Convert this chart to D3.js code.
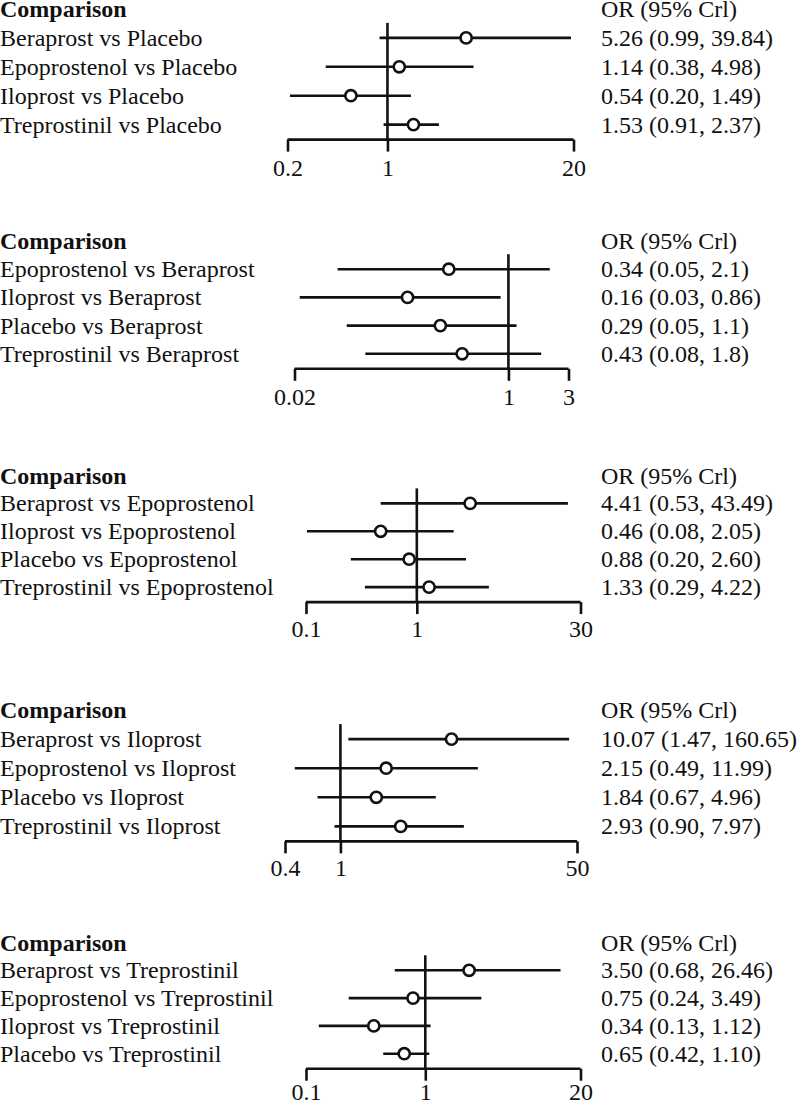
<!DOCTYPE html>
<html>
<head>
<meta charset="utf-8">
<script src="https://cdn.jsdelivr.net/npm/d3@7"></script>
<style>
  html, body { margin: 0; padding: 0; background: #fff; }
  svg text { font-family: "Liberation Serif", "Times New Roman", serif; fill: #111; }
</style>
</head>
<body>
<div id="chart"></div>
<script>
// ---------- DATA ----------
const headerLeft = "Comparison";
const headerRight = "OR (95% Crl)";

const labelsP1 = ["Beraprost vs Placebo", "Epoprostenol vs Placebo", "Iloprost vs Placebo", "Treprostinil vs Placebo"];
const estP1 = [3.55, 1.21, 0.555, 1.52];
const loP1  = [0.88, 0.37, 0.208, 0.94];
const hiP1  = [19.2, 4.0, 1.46, 2.29];
const textP1 = ["5.26 (0.99, 39.84)", "1.14 (0.38, 4.98)", "0.54 (0.20, 1.49)", "1.53 (0.91, 2.37)"];
const ticksP1 = [0.2, 1, 20];

const labelsP2 = ["Epoprostenol vs Beraprost", "Iloprost vs Beraprost", "Placebo vs Beraprost", "Treprostinil vs Beraprost"];
const estP2 = [0.336, 0.158, 0.288, 0.429];
const loP2  = [0.044, 0.022, 0.052, 0.073];
const hiP2  = [2.13, 0.867, 1.16, 1.82];
const textP2 = ["0.34 (0.05, 2.1)", "0.16 (0.03, 0.86)", "0.29 (0.05, 1.1)", "0.43 (0.08, 1.8)"];
const ticksP2 = [0.02, 1, 3];

const labelsP3 = ["Beraprost vs Epoprostenol", "Iloprost vs Epoprostenol", "Placebo vs Epoprostenol", "Treprostinil vs Epoprostenol"];
const estP3 = [3.03, 0.472, 0.853, 1.29];
const loP3  = [0.472, 0.102, 0.254, 0.34];
const hiP3  = [23.1, 2.15, 2.78, 4.47];
const textP3 = ["4.41 (0.53, 43.49)", "0.46 (0.08, 2.05)", "0.88 (0.20, 2.60)", "1.33 (0.29, 4.22)"];
const ticksP3 = [0.1, 1, 30];

const labelsP4 = ["Beraprost vs Iloprost", "Epoprostenol vs Iloprost", "Placebo vs Iloprost", "Treprostinil vs Iloprost"];
const estP4 = [6.28, 2.13, 1.81, 2.71];
const loP4  = [1.14, 0.47, 0.685, 0.906];
const hiP4  = [43.9, 9.71, 4.84, 7.7];
const textP4 = ["10.07 (1.47, 160.65)", "2.15 (0.49, 11.99)", "1.84 (0.67, 4.96)", "2.93 (0.90, 7.97)"];
const ticksP4 = [0.4, 1, 50];

const labelsP5 = ["Beraprost vs Treprostinil", "Epoprostenol vs Treprostinil", "Iloprost vs Treprostinil", "Placebo vs Treprostinil"];
const estP5 = [2.33, 0.789, 0.37, 0.666];
const loP5  = [0.555, 0.228, 0.128, 0.444];
const hiP5  = [13.6, 2.95, 1.107, 1.08];
const textP5 = ["3.50 (0.68, 26.46)", "0.75 (0.24, 3.49)", "0.34 (0.13, 1.12)", "0.65 (0.42, 1.10)"];
const ticksP5 = [0.1, 1, 20];

// ---------- LAYOUT ----------
const W = 800, H = 1105;
const panelLayout = [
  { top: 9,     step: 28.9, x0: 287.5, x1: 573.5, lab: 36 },
  { top: 241,   step: 28.2, x0: 294.5, x1: 568.5, lab: 36 },
  { top: 475.5, step: 27.9, x0: 306,   x1: 580.5, lab: 35 },
  { top: 710,   step: 29.1, x0: 285,   x1: 577,   lab: 35 },
  { top: 942.5, step: 27.8, x0: 306,   x1: 580.5, lab: 31 }
];
const panels = [
  { labels: labelsP1, est: estP1, lo: loP1, hi: hiP1, text: textP1, ticks: ticksP1 },
  { labels: labelsP2, est: estP2, lo: loP2, hi: hiP2, text: textP2, ticks: ticksP2 },
  { labels: labelsP3, est: estP3, lo: loP3, hi: hiP3, text: textP3, ticks: ticksP3 },
  { labels: labelsP4, est: estP4, lo: loP4, hi: hiP4, text: textP4, ticks: ticksP4 },
  { labels: labelsP5, est: estP5, lo: loP5, hi: hiP5, text: textP5, ticks: ticksP5 }
];

const fontSize = 24;
const textX = 0, rightX = 601;
const lw = 2.6, tickLen = 12, r = 5.6;

const svg = d3.select("#chart").append("svg")
  .attr("width", W).attr("height", H)
  .attr("viewBox", `0 0 ${W} ${H}`);

panels.forEach((p, i) => {
  const L = panelLayout[i];
  const g = svg.append("g");
  const n = p.labels.length;
  const y = d3.scaleLinear().domain([0, n]).range([L.top, L.top + n * L.step]);
  const x = d3.scaleLog().domain([p.ticks[0], p.ticks[p.ticks.length - 1]]).range([L.x0, L.x1]);
  const axisY = y(n) + 15;

  // headers
  g.append("text").attr("x", textX).attr("y", y(0) + 8)
    .attr("font-size", fontSize).attr("font-weight", "bold").text(headerLeft);
  g.append("text").attr("x", rightX).attr("y", y(0) + 8)
    .attr("font-size", fontSize).text(headerRight);

  const rows = d3.range(n);
  g.selectAll("text.lab").data(rows).join("text").attr("class", "lab")
    .attr("x", textX).attr("y", d => y(d + 1) + 8)
    .attr("font-size", fontSize).text(d => p.labels[d]);
  g.selectAll("text.val").data(rows).join("text").attr("class", "val")
    .attr("x", rightX).attr("y", d => y(d + 1) + 8)
    .attr("font-size", fontSize).text(d => p.text[d]);

  // axis
  const axis = d3.axisBottom(x).tickValues(p.ticks).tickSize(tickLen).tickSizeOuter(0)
    .tickFormat(d => String(d));
  const ax = g.append("g").attr("transform", `translate(0,${axisY})`).call(axis);
  ax.select(".domain").attr("stroke", "#111").attr("stroke-width", lw)
    .attr("d", `M${x.range()[0]},0H${x.range()[1]}`);
  ax.selectAll(".tick line").attr("stroke", "#111").attr("stroke-width", lw);
  ax.selectAll(".tick text").attr("font-size", fontSize)
    .attr("font-family", '"Liberation Serif", "Times New Roman", serif')
    .attr("fill", "#111").attr("y", L.lab).attr("dy", 0);

  // reference line at 1
  g.append("line").attr("x1", x(1)).attr("x2", x(1))
    .attr("y1", y(1) - 15).attr("y2", axisY)
    .attr("stroke", "#111").attr("stroke-width", lw);

  // CI lines
  g.selectAll("line.ci").data(rows).join("line").attr("class", "ci")
    .attr("x1", d => x(p.lo[d])).attr("x2", d => x(p.hi[d]))
    .attr("y1", d => y(d + 1)).attr("y2", d => y(d + 1))
    .attr("stroke", "#111").attr("stroke-width", lw);

  // points
  g.selectAll("circle.pt").data(rows).join("circle").attr("class", "pt")
    .attr("cx", d => x(p.est[d])).attr("cy", d => y(d + 1)).attr("r", r)
    .attr("fill", "#fff").attr("stroke", "#111").attr("stroke-width", lw);
});
</script>
</body>
</html>
